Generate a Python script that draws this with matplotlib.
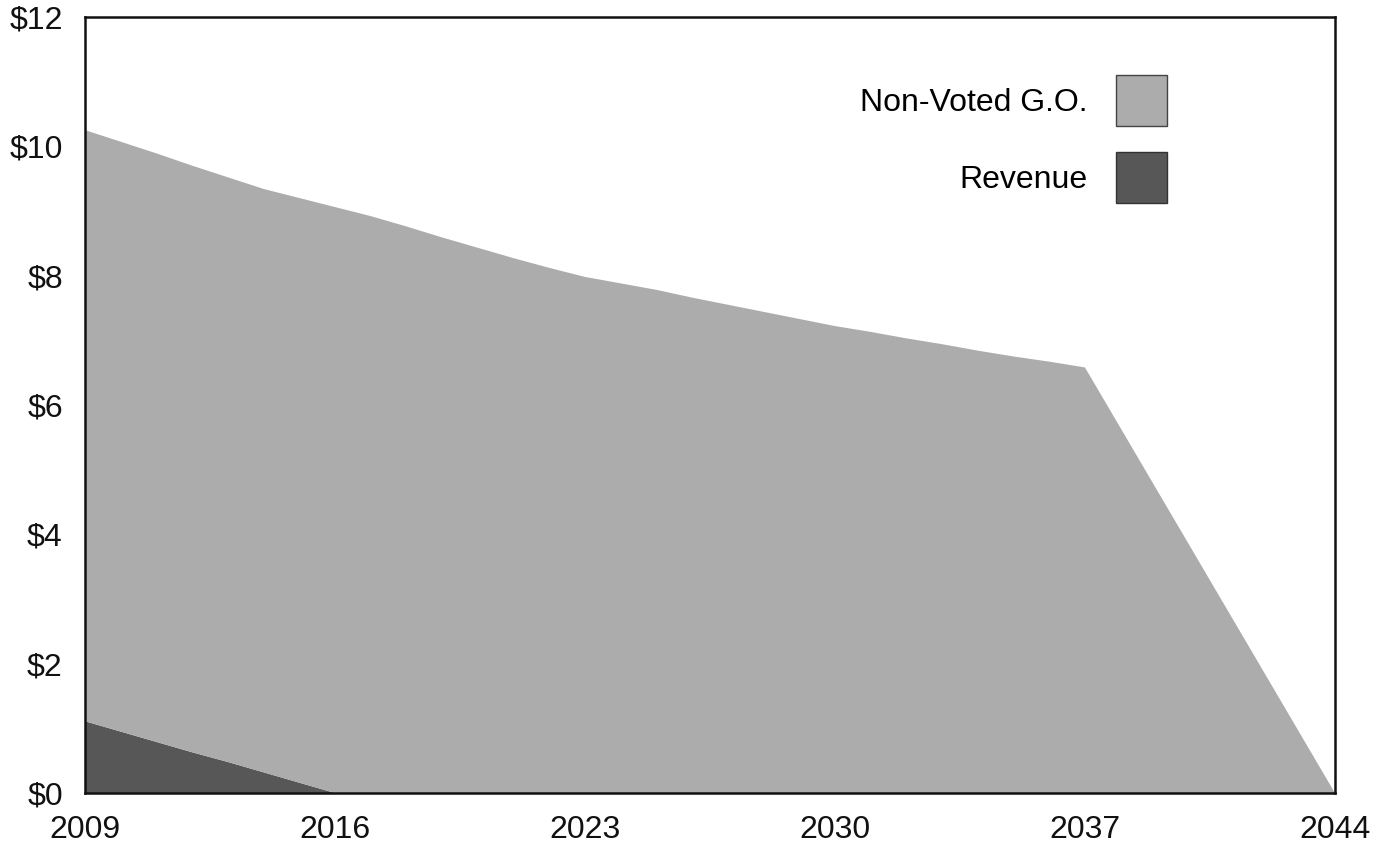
import matplotlib
matplotlib.use("Agg")
import matplotlib.pyplot as plt
from matplotlib.patches import Patch

# debt service by year ($ millions)
YEARS = [2009, 2010, 2011, 2012, 2013, 2014, 2015, 2016, 2017, 2018,
         2019, 2020, 2021, 2022, 2023, 2024, 2025, 2026, 2027, 2028,
         2029, 2030, 2031, 2032, 2033, 2034, 2035, 2036, 2037, 2044]
REVENUE = [1.11, 0.95, 0.79, 0.63, 0.48, 0.32, 0.16, 0.0, 0.0, 0.0,
           0.0, 0.0, 0.0, 0.0, 0.0, 0.0, 0.0, 0.0, 0.0, 0.0,
           0.0, 0.0, 0.0, 0.0, 0.0, 0.0, 0.0, 0.0, 0.0, 0.0]
NON_VOTED_GO = [9.14, 9.12, 9.10, 9.07, 9.04, 9.02, 9.04, 9.06, 8.92, 8.76,
                8.59, 8.43, 8.27, 8.12, 7.98, 7.88, 7.78, 7.66, 7.55, 7.44,
                7.33, 7.22, 7.13, 7.03, 6.94, 6.84, 6.75, 6.67, 6.58, 0.0]

X_TICKS = [2009, 2016, 2023, 2030, 2037, 2044]
Y_TICKS = [0, 2, 4, 6, 8, 10, 12]

COLOR_GO = "#acacac"
COLOR_REV = "#575757"
FONT_SIZE = 23

plt.rcParams["font.family"] = ["Liberation Sans", "DejaVu Sans"]

fig = plt.figure(figsize=(13.9, 8.46), dpi=100)
ax = fig.add_axes([0.0612, 0.0626, 0.8992, 0.9174])

ax.stackplot(YEARS, REVENUE, NON_VOTED_GO, colors=[COLOR_REV, COLOR_GO], linewidth=0)

ax.set_xlim(2009, 2044)
ax.set_ylim(0, 12)
ax.set_xticks(X_TICKS)
ax.set_yticks(Y_TICKS)
ax.set_yticklabels([f"${v}" for v in Y_TICKS])
ax.tick_params(axis="both", length=0, labelsize=FONT_SIZE, colors="#111111")
ax.tick_params(axis="y", pad=16)
ax.tick_params(axis="x", pad=16)

for spine in ax.spines.values():
    spine.set_linewidth(1.8)
    spine.set_color("#111111")

handles = [Patch(facecolor=COLOR_GO, edgecolor="#444444", linewidth=1.0, label="Non-Voted G.O."),
           Patch(facecolor=COLOR_REV, edgecolor="#333333", linewidth=1.0, label="Revenue")]
ax.legend(handles=handles, loc="upper right", bbox_to_anchor=(0.866, 0.925),
          frameon=False, fontsize=FONT_SIZE, markerfirst=False,
          handlelength=1.6, handleheight=2.08, handletextpad=0.91,
          labelspacing=0.81, borderpad=0, borderaxespad=0)

fig.savefig("out.png", dpi=100)
